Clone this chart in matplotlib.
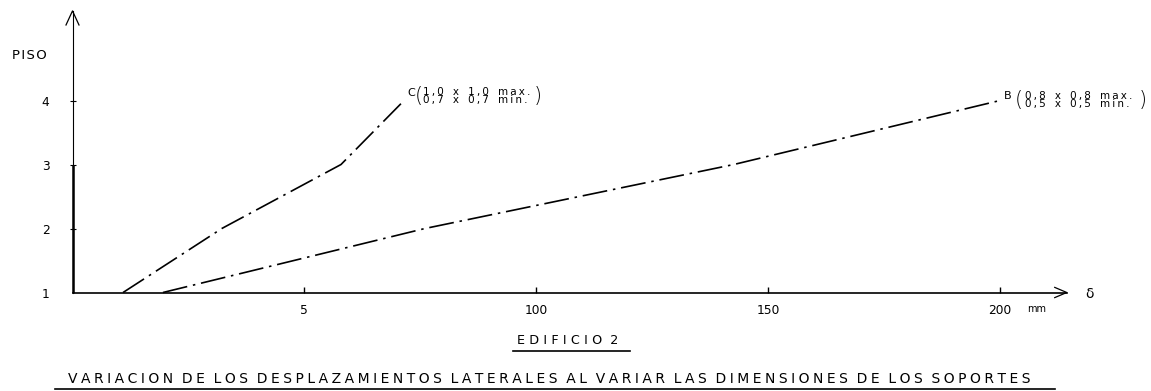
import matplotlib
matplotlib.use("Agg")
import matplotlib.pyplot as plt
from matplotlib.lines import Line2D

# Floor number and lateral displacement (mm) for each support set
pisos = [1, 2, 3, 4]
desp_C = [10.9, 32.2, 57.9, 71.5]
desp_B = [19.5, 76.0, 142.6, 200.0]

x_ticks = [50, 100, 150, 200]
x_tick_labels = ["5", "100", "150", "200"]
y_ticks = [1, 2, 3, 4]
y_tick_labels = ["1", "2", "3", "4"]

label_C = ("C", "1,0 x 1,0  max.", "0,7 x 0,7  min.")
label_B = ("B", "0,8 x 0,8  max.", "0,5 x 0,5  min.")

titulo = "EDIFICIO 2"
subtitulo = "VARIACION DE LOS DESPLAZAMIENTOS LATERALES AL VARIAR LAS DIMENSIONES DE LOS SOPORTES"


def espaciado(texto, sep="\u2005", hueco="  "):
    """Spread lettering out like stencil captions."""
    palabras = [p for p in texto.split(" ") if p != ""]
    return hueco.join(sep.join(p) for p in palabras)


W, H = 1151, 391
fig = plt.figure(figsize=(W / 100, H / 100), dpi=100)
fig.patch.set_facecolor("white")

x0_px, y0_px = 72.5, 292.5
px_mm, px_piso = 4.6375, 64.0
xmax, ymax = 214.4, 5.4
ax = fig.add_axes([x0_px / W, (H - y0_px) / H,
                   xmax * px_mm / W, (ymax - 1) * px_piso / H])
ax.set_xlim(0, xmax)
ax.set_ylim(1, ymax)
ax.set_facecolor("none")
for s in ("top", "right"):
    ax.spines[s].set_visible(False)
ax.spines["left"].set_linewidth(0.8)
ax.spines["bottom"].set_linewidth(1.2)

ax.set_xticks(x_ticks)
ax.set_xticklabels(x_tick_labels)
ax.set_yticks(y_ticks)
ax.set_yticklabels(y_tick_labels)
ax.tick_params(axis="x", direction="in", length=4, width=1, pad=8, labelsize=8.8)
ax.tick_params(axis="y", direction="inout", length=5, width=0.8, pad=14, labelsize=8.8)
ax.yaxis.get_major_ticks()[0].tick1line.set_visible(False)

# heavier stroke on the lower part of the vertical axis
ax.plot([0, 0], [1, 3], color="black", lw=1.8, clip_on=False, solid_capstyle="butt")

# open arrowheads on both axes
ax.add_line(Line2D([-1.4, 0, 1.4], [ymax - 0.22, ymax, ymax - 0.22],
                   color="black", lw=0.9, clip_on=False))
ax.add_line(Line2D([xmax - 2.6, xmax, xmax - 2.6], [1.08, 1, 0.92],
                   color="black", lw=0.9, clip_on=False))

estilo = dict(color="black", lw=1.2, dashes=(15, 3.5, 1.5, 3.5), clip_on=False)
ax.plot(desp_C, pisos, **estilo)
ax.plot(desp_B, pisos, **estilo)

ax.text(205.8, 0.742, "mm", fontsize=7, ha="left", va="center")
ax.text(219.4, 0.98, "δ", fontsize=10, ha="center", va="center")
ax.text(-9.4, 4.71, espaciado("PISO", "\u200a"), fontsize=9.5, ha="center", va="center")


def rotulo(x_letra, y_letra, datos, y1, y2, x_abre, x_texto, x_cierra):
    letra, l1, l2 = datos
    ax.text(x_letra, y_letra, letra, fontsize=8, ha="center", va="center")
    ym = (y1 + y2) / 2
    ax.text(x_abre, ym, "(", fontsize=15, ha="center", va="center", fontweight="light")
    for y, linea in ((y1, l1), (y2, l2)):
        ax.text(x_texto, y, espaciado(linea, "\u2009", " \u2005 "), fontsize=7.5,
                ha="left", va="center")
    ax.text(x_cierra, ym, ")", fontsize=15, ha="center", va="center", fontweight="light")


rotulo(73.0, 4.12, label_C, 4.14, 4.015, 74.6, 75.6, 100.4)
rotulo(201.7, 4.07, label_B, 4.07, 3.945, 204.0, 205.3, 230.8)

# captions below the chart
fig.text(568 / W, 1 - 341 / H, espaciado(titulo, "\u2004"), fontsize=9.2,
         ha="center", va="center")
fig.add_artist(Line2D([513 / W, 630 / W], [1 - 351 / H, 1 - 351 / H],
                      color="black", lw=1.2))
fig.text(549 / W, 1 - 379 / H, espaciado(subtitulo, "\u2005"), fontsize=10,
         ha="center", va="center")
fig.add_artist(Line2D([55 / W, 1055 / W], [1 - 388.5 / H, 1 - 388.5 / H],
                      color="black", lw=1.2))

fig.savefig("out.png", dpi=100, facecolor="white")
